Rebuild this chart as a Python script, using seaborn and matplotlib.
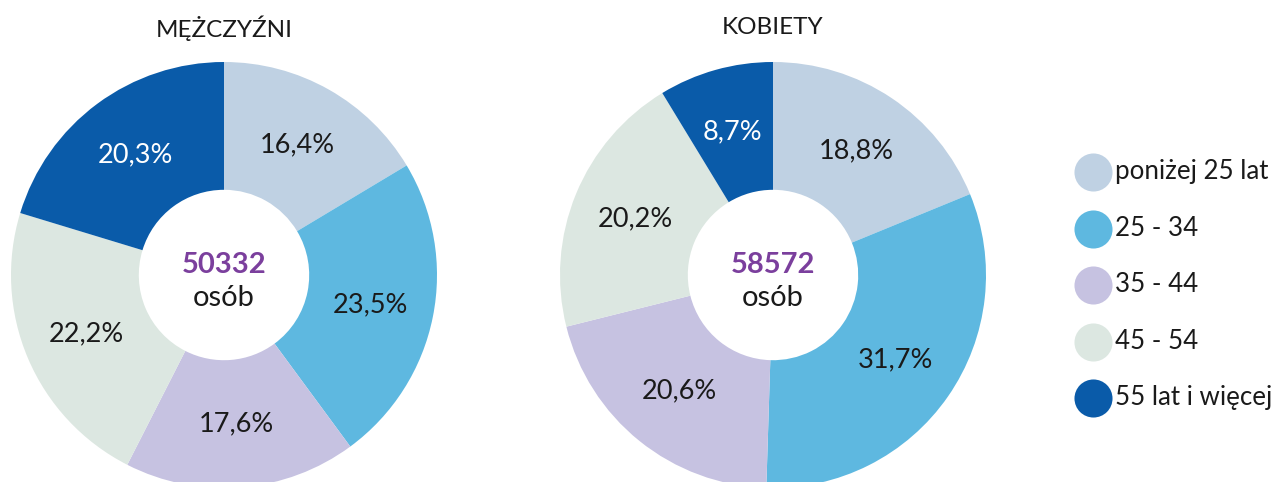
import matplotlib
matplotlib.use("Agg")
import matplotlib.pyplot as plt
import seaborn as sns

groups = ["poniżej 25 lat", "25 - 34", "35 - 44", "45 - 54", "55 lat i więcej"]
men = [16.4, 23.5, 17.6, 22.2, 20.3]
women = [18.8, 31.7, 20.6, 20.2, 8.7]
totals = [50332, 58572]
titles = ["MĘŻCZYŹNI", "KOBIETY"]

colors = ["#BFD1E3", "#5EB8E0", "#C6C2E1", "#DCE7E1", "#0A5BA9"]
label_colors = ["#1a1a1a", "#1a1a1a", "#1a1a1a", "#1a1a1a", "white"]

sns.set_theme(style="white")
plt.rcParams["font.family"] = ["Lato", "DejaVu Sans"]

W, H = 1274, 482
fig = plt.figure(figsize=(W / 100, H / 100), dpi=100)

def px_axes(cx, cy, r):
    return fig.add_axes([(cx - r) / W, (H - cy - r) / H, 2 * r / W, 2 * r / H])

centers = [(224, 275), (773, 275)]
for data, total, title, (cx, cy) in zip([men, women], totals, titles, centers):
    ax = px_axes(cx, cy, 213)
    wedges, texts, autotexts = ax.pie(
        data, colors=colors, startangle=90, counterclock=False, radius=1,
        autopct=lambda p: f"{p:.1f}".replace(".", ",") + "%", pctdistance=0.7,
        wedgeprops=dict(width=0.6, linewidth=0),
        textprops=dict(fontsize=19.5),
    )
    for t, c in zip(autotexts, label_colors):
        t.set_color(c)
    ax.set_xlim(-1, 1)
    ax.set_ylim(-1, 1)
    ax.set_aspect("equal")
    ax.axis("off")
    ax.text(0, 0.045, str(total), ha="center", va="center", fontsize=21,
            fontweight="bold", color="#7B3F9D")
    ax.text(0, -0.11, "osób", ha="center", va="center", fontsize=21, color="#1a1a1a")
    fig.text(cx / W, 1 - 28 / H, title, ha="center", va="center", fontsize=17.5,
             color="#1a1a1a")

# legend
lax = fig.add_axes([1070 / W, 0, 204 / W, 1])
lax.set_xlim(0, 204)
lax.set_ylim(H, 0)
lax.axis("off")
for i, (g, c) in enumerate(zip(groups, colors)):
    y = 172 + i * 56.5
    lax.scatter([23], [y], s=38 ** 2 * 0.52, color=c, linewidths=0)
    lax.text(45, y, g, ha="left", va="center", fontsize=18.6, color="#1a1a1a")

fig.savefig("out.png", dpi=100)
